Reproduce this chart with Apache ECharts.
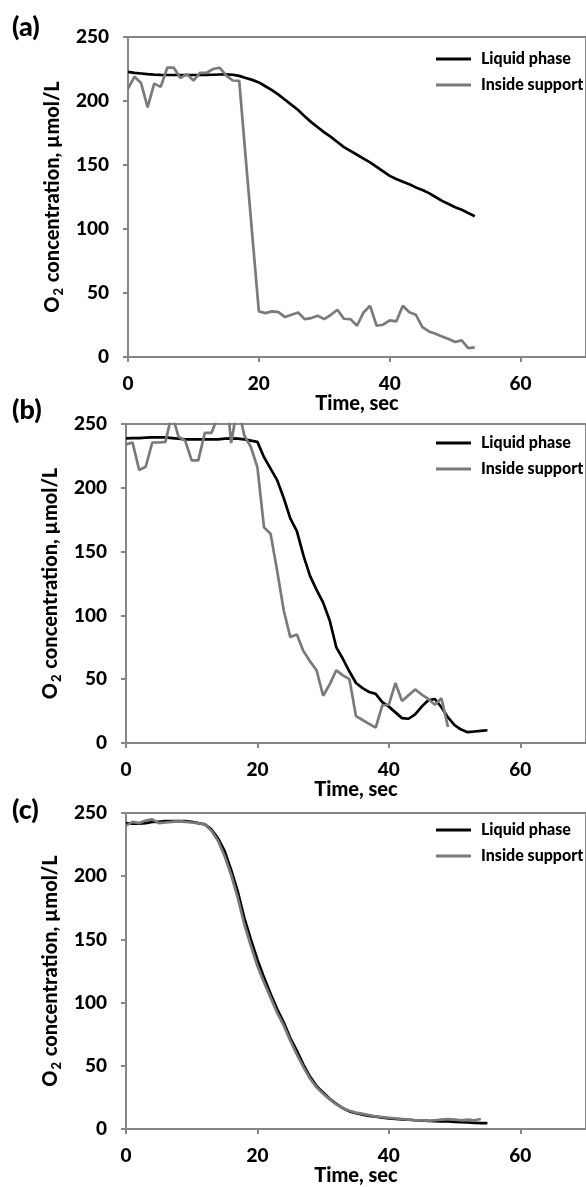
<!DOCTYPE html>
<html><head><meta charset="utf-8">
<script src="https://cdn.jsdelivr.net/npm/echarts@6/dist/echarts.min.js"></script>
<style>html,body{margin:0;padding:0;background:#fff}#c{width:586px;height:1187px}</style>
</head><body><div id="c"></div>
<script>
// ---------- data ----------
const panelLabels = ['(a)', '(b)', '(c)'];
const seriesNames = ['Liquid phase', 'Inside support'];
const xTicks = [0, 20, 40, 60];
const yTicks = [0, 50, 100, 150, 200, 250];

const timeA = [0,1,2,3,4,5,6,7,8,9,10,11,12,13,14,15,16,17,18,19,20,21,22,23,24,25,26,27,28,29,30,31,32,33,34,35,36,37,38,39,40,41,42,43,44,45,46,47,48,49,50,51,52,53];
const liquidA = [222.7,222,221.5,221,220.6,220.4,220.3,220.3,220.3,220.3,220.3,220.3,220.4,220.5,220.7,220.8,220.5,219.6,218,216.5,214.5,211.5,208.5,205,201,197,193,188,183.5,179.5,175.5,172,168,164,161,158,155,152,148.5,145,141.5,139,137,135,132.5,130.5,128,125,122,119.5,117,115,112.5,110];
const supportA = [209.7,219,214,195,213.6,211,226,226,218,221,216,222,222,225,226,220,216,215.7,155,95,35.6,34.3,35.6,35,31.2,33,34.8,29.6,30.4,32.2,29.6,33,36.9,29.9,29.6,24.4,34.8,40,24.4,25.2,28.6,27.8,40,35,33,23.4,20,18.2,16.1,14,11.7,13,7,7.5];

const timeB = [0,1,2,3,4,5,6,7,8,9,10,11,12,13,14,15,16,17,18,19,20,21,22,23,24,25,26,27,28,29,30,31,32,33,34,35,36,37,38,39,40,41,42,43,44,45,46,47,48,49,50,51,52,53,54,55];
const liquidB = [238.8,239,239,239.3,239.5,239.5,239.5,239,238.5,238,238,238,238,238,238,238.5,238.8,238.5,238,237,236,224,215,206,192,176,166,147,131,120,110,96,75,66,56,47,43,40,38.5,32,28.5,24,19.5,19,22.5,28.5,33.5,34.5,28,20,14,10.5,8.5,9,9.5,10];
const supportB = [234,235.5,214,216.5,235.5,235.5,236,258,240,237,221.5,221.5,243,243,256,290,235,265,241,232,216,169,164,135,104,83,85,72,64,57,37,46,57,53,50,21,18,15,12,29.5,30,47,33,37.5,42,38,34.5,30,35,12.5];

const timeC = [0,1,2,3,4,5,6,7,8,9,10,11,12,13,14,15,16,17,18,19,20,21,22,23,24,25,26,27,28,29,30,31,32,33,34,35,36,37,38,39,40,41,42,43,44,45,46,47,48,49,50,51,52,53,54,55];
const liquidC = [242,241.5,241.5,242,243,243,243.5,243.5,243.5,243.5,243,242,241,237,230,220,205,188,167,150,134,120,107,95,84.5,72,62,51,41.5,34,29,24,20,16.5,14,12.5,11.5,10.5,9.8,9,8.5,8,7.7,7.4,7,6.8,6.5,6.3,6.1,6,5.7,5.4,5.2,5,4.8,4.7];
const supportC = [240,243,242,244,245,242,242.5,243,243.5,243,242.5,242,241,236,228,216,201,183,162,145,129,116,104,92,82,70,59,49,40,33,28,23.5,19.5,16.5,14.5,13,12,11,10,9.5,9,8.5,8,7.5,7,7,6.5,7,7.5,8,7.5,7,7.5,7,8];

// ---------- styling ----------
const FONT = 'Lato, "Open Sans", sans-serif';
const WEIGHT = 900;
const AXIS_COLOR = '#868686';
const BLACK = '#000000';
const GRAY = '#7a7a7a';

const grids = [
  {left: 128, top: 37, width: 462, height: 320},
  {left: 126, top: 424, width: 464, height: 319},
  {left: 126, top: 813, width: 464, height: 318.5}
];
const labelTops = [14, 397, 797];
const legendTops = [51, 435, 822];

const panels = [
  {t: timeA, l: liquidA, s: supportA},
  {t: timeB, l: liquidB, s: supportB},
  {t: timeC, l: liquidC, s: supportC}
];

function pairs(t, v) { return v.map((y, i) => [t[i], y]); }

const option = {
  animation: false,
  backgroundColor: '#fff',
  title: panelLabels.map((txt, i) => ({
    text: txt, left: 12, top: labelTops[i], padding: 0,
    textStyle: {fontFamily: FONT, fontWeight: WEIGHT, fontSize: 27, color: '#000'}
  })),
  legend: grids.map((g, i) => ({
    orient: 'vertical', left: 436, top: legendTops[i], padding: 0,
    itemWidth: 35, itemHeight: 3, itemGap: 10,
    data: [{name: seriesNames[0], icon: 'rect'}, {name: seriesNames[1], icon: 'rect'}],
    textStyle: {fontFamily: FONT, fontWeight: WEIGHT, fontSize: 16, color: '#000', lineHeight: 16, padding: [0, 0, 0, 5]},
    selectedMode: false
  })),
  grid: grids.map(g => Object.assign({show: true, borderColor: AXIS_COLOR, borderWidth: 2, backgroundColor: 'transparent'}, g)),
  xAxis: grids.map((g, i) => ({
    type: 'value', gridIndex: i, min: 0, max: 70, interval: 20,
    axisLine: {show: true, lineStyle: {color: AXIS_COLOR, width: 2}},
    axisTick: {show: true, length: 5, lineStyle: {color: AXIS_COLOR, width: 2}},
    splitLine: {show: false},
    axisLabel: {fontFamily: FONT, fontWeight: WEIGHT, fontSize: 19, color: '#000', margin: 17, showMaxLabel: false,
      formatter: v => xTicks.includes(v) ? String(v) : ''},
    name: 'Time, sec', nameLocation: 'middle', nameGap: 36,
    nameTextStyle: {fontFamily: FONT, fontWeight: WEIGHT, fontSize: 20, color: '#000'}
  })),
  yAxis: grids.map((g, i) => ({
    type: 'value', gridIndex: i, min: 0, max: 250, interval: 50,
    axisLine: {show: true, lineStyle: {color: AXIS_COLOR, width: 2}},
    axisTick: {show: true, length: 5, lineStyle: {color: AXIS_COLOR, width: 2}},
    splitLine: {show: false},
    axisLabel: {fontFamily: FONT, fontWeight: WEIGHT, fontSize: 19, color: '#000', margin: 19,
      formatter: v => yTicks.includes(v) ? String(v) : ''},
    name: '{a|O}{s|2}{a| concentration, µmol/L}', nameLocation: 'middle', nameGap: 42, nameRotate: 90,
    nameTextStyle: {
      rich: {
        a: {fontFamily: FONT, fontWeight: WEIGHT, fontSize: 20, color: '#000', lineHeight: 24},
        s: {fontFamily: FONT, fontWeight: WEIGHT, fontSize: 13, color: '#000', lineHeight: 12, verticalAlign: 'bottom', padding: [0, 1, 0, 1]}
      }
    }
  })),
  series: []
};

panels.forEach((p, i) => {
  option.series.push({
    name: seriesNames[0], type: 'line', xAxisIndex: i, yAxisIndex: i,
    data: pairs(p.t, p.l), showSymbol: false, symbol: 'none', smooth: false, clip: true,
    color: BLACK, lineStyle: {color: BLACK, width: 2.7}, z: 2
  });
  option.series.push({
    name: seriesNames[1], type: 'line', xAxisIndex: i, yAxisIndex: i,
    data: pairs(p.t, p.s), showSymbol: false, symbol: 'none', smooth: false, clip: true,
    color: GRAY, lineStyle: {color: GRAY, width: 2.7}, z: 3
  });
});

const chart = echarts.init(document.getElementById('c'), null, {renderer: 'canvas'});
chart.setOption(option);
</script>
</body></html>
